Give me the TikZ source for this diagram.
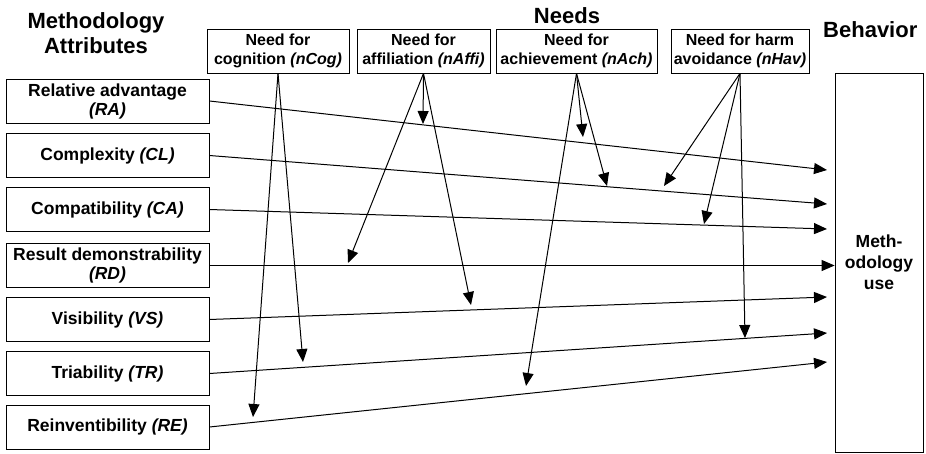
\documentclass[tikz,border=0pt]{standalone}
\usepackage{fontspec}
\setmainfont{Liberation Sans}
\usetikzlibrary{arrows.meta}
\begin{document}
\begin{tikzpicture}[x=1pt,y=-1pt,
  box/.style={draw, line width=0.8pt, inner sep=0pt, align=center},
  attr/.style={box, minimum width=203pt, minimum height=44pt,
    font=\bfseries\fontsize{17.5}{19}\selectfont},
  need/.style={box, minimum height=44pt,
    font=\bfseries\fontsize{16}{18.5}\selectfont},
  title/.style={font=\bfseries\fontsize{22}{25}\selectfont, inner sep=0pt},
  link/.style={line width=1pt, -{Triangle[length=13pt,width=11pt]}}]
\useasboundingbox (0,0) rectangle (926,453);
% titles
\node[title, anchor=base] (t1) at (96,28) {Methodology};
\node[title, anchor=base] (t1b) at (96,53) {Attributes};
\node[title, anchor=base] (t2) at (567,23) {Needs};
\node[title, anchor=base west] (t3) at (823,37) {Behavior};
% attribute boxes
\node[attr] (RA) at (107.5,101) {Relative advantage\\\textit{(RA)}};
\node[attr] (CL) at (107.5,155.5) {Complexity \textit{(CL)}};
\node[attr] (CA) at (107.5,209.5) {Compatibility \textit{(CA)}};
\node[attr] (RD) at (107.5,265.5) {Result demonstrability\\\textit{(RD)}};
\node[attr] (VS) at (107.5,319.5) {Visibility \textit{(VS)}};
\node[attr] (TR) at (107.5,373.5) {Triability \textit{(TR)}};
\node[attr] (RE) at (107.5,427) {Reinventibility \textit{(RE)}};
% need boxes
\node[need, minimum width=142pt] (nCog) at (278,51) {Need for\\cognition \textit{(nCog)}};
\node[need, minimum width=133pt] (nAffi) at (423.5,51) {Need for\\affiliation \textit{(nAffi)}};
\node[need, minimum width=161pt] (nAch) at (576.5,51) {Need for\\achievement \textit{(nAch)}};
\node[need, minimum width=138pt] (nHav) at (740,51) {Need for harm\\avoidance \textit{(nHav)}};
% behavior box
\node[box, minimum width=88pt, minimum height=379pt,
  font=\bfseries\fontsize{17.5}{21}\selectfont] (beh) at (879,262.5) {Meth-\\odology\\use};
% free ends
\coordinate (eRA) at (827,170);
\coordinate (eCL) at (827,204);
\coordinate (eCA) at (827,229);
\coordinate (eVS) at (827,297);
\coordinate (eTR) at (827,333);
\coordinate (eRE) at (827,362);
\coordinate (c1) at (303,362);
\coordinate (c2) at (253,417);
\coordinate (a1) at (423,124);
\coordinate (a2) at (348,263);
\coordinate (a3) at (471,305);
\coordinate (h1) at (583,137);
\coordinate (h2) at (607,186);
\coordinate (h3) at (526,386);
\coordinate (v1) at (664,186);
\coordinate (v2) at (704,224);
\coordinate (v3) at (745,338);
% attribute links
\draw[link] (RA.east) -- (eRA);
\draw[link] (CL.east) -- (eCL);
\draw[link] (CA.east) -- (eCA);
\draw[link] (RD.east) -- (RD.east -| beh.west);
\draw[link] (VS.east) -- (eVS);
\draw[link] (TR.east) -- (eTR);
\draw[link] (RE.east) -- (eRE);
% need links
\draw[link] (nCog.south) -- (c1);
\draw[link] (nCog.south) -- (c2);
\draw[link] (nAffi.south) -- (a1);
\draw[link] (nAffi.south) -- (a2);
\draw[link] (nAffi.south) -- (a3);
\draw[link] (nAch.south) -- (h1);
\draw[link] (nAch.south) -- (h2);
\draw[link] (nAch.south) -- (h3);
\draw[link] (nHav.south) -- (v1);
\draw[link] (nHav.south) -- (v2);
\draw[link] (nHav.south) -- (v3);
\end{tikzpicture}
\end{document}
